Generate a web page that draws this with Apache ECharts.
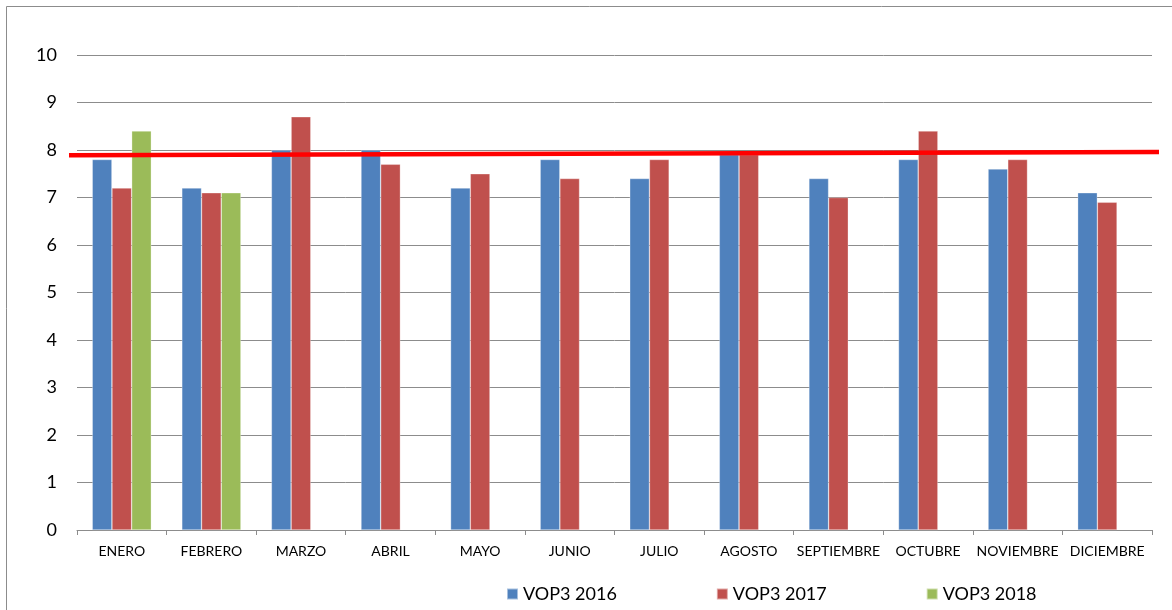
<!DOCTYPE html>
<html><head><meta charset="utf-8">
<script src="https://cdn.jsdelivr.net/npm/echarts@6/dist/echarts.min.js"></script>
<style>html,body{margin:0;padding:0;background:#fff;overflow:hidden}#c{width:1172px;height:610px}</style>
</head><body><div id="c"></div>
<script>
var months = ['ENERO','FEBRERO','MARZO','ABRIL','MAYO','JUNIO','JULIO','AGOSTO','SEPTIEMBRE','OCTUBRE','NOVIEMBRE','DICIEMBRE'];
var vop2016 = [7.8, 7.2, 8.0, 8.0, 7.2, 7.8, 7.4, 7.9, 7.4, 7.8, 7.6, 7.1];
var vop2017 = [7.2, 7.1, 8.7, 7.7, 7.5, 7.4, 7.8, 7.9, 7.0, 8.4, 7.8, 6.9];
var vop2018 = [8.4, 7.1, null, null, null, null, null, null, null, null, null, null];
var seriesNames = ['VOP3 2016','VOP3 2017','VOP3 2018'];
var yTicks = [0,1,2,3,4,5,6,7,8,9,10];
var targetLine = [[0, 7.89], [1, 7.96]];

var font = 'Lato, "Open Sans", sans-serif';
var chart = echarts.init(document.getElementById('c'), null, {renderer:'canvas'});
var barStyle = function(c){ return {color:c, borderColor:'rgba(255,255,255,0.5)', borderWidth:0.6}; };
chart.setOption({
  animation:false,
  graphic:[{type:'rect', shape:{x:6.5, y:6.5, width:1200, height:700}, style:{fill:'none', stroke:'#8c8c8c', lineWidth:1}, silent:true, z:-10}],
  grid:[
    {left:77, right:20, top:55, bottom:80, containLabel:false},
    {left:69, right:13, top:55, bottom:80, containLabel:false}
  ],
  legend:{
    data:seriesNames, left:501, top:580, itemWidth:11, itemHeight:11, itemGap:99,
    icon:'rect', textStyle:{fontFamily:font, fontSize:18, color:'#000'}
  },
  xAxis:[
    {type:'category', gridIndex:0, data:months,
     axisLine:{lineStyle:{color:'#8c8c8c', width:1}},
     axisTick:{show:true, length:5, lineStyle:{color:'#8c8c8c'}},
     axisLabel:{fontFamily:font, fontSize:14, color:'#000', margin:14, interval:0}},
    {type:'value', gridIndex:1, min:0, max:1, show:false}
  ],
  yAxis:[
    {type:'value', gridIndex:0, min:yTicks[0], max:yTicks[yTicks.length-1], interval:1,
     axisLine:{show:false}, axisTick:{show:false},
     splitLine:{lineStyle:{color:'#8c8c8c', width:1}},
     axisLabel:{fontFamily:font, fontSize:18, color:'#000', margin:20}},
    {type:'value', gridIndex:1, min:0, max:10, show:false}
  ],
  series:[
    {name:seriesNames[0], type:'bar', data:vop2016, barGap:'0%', barCategoryGap:'34%', itemStyle:barStyle('#4f81bd')},
    {name:seriesNames[1], type:'bar', data:vop2017, itemStyle:barStyle('#c0504d')},
    {name:seriesNames[2], type:'bar', data:vop2018, itemStyle:barStyle('#9bbb59')},
    {name:'meta', type:'line', xAxisIndex:1, yAxisIndex:1, data:targetLine, symbol:'none',
     lineStyle:{color:'#ff0000', width:4.5}, z:10}
  ]
});
</script></body></html>
